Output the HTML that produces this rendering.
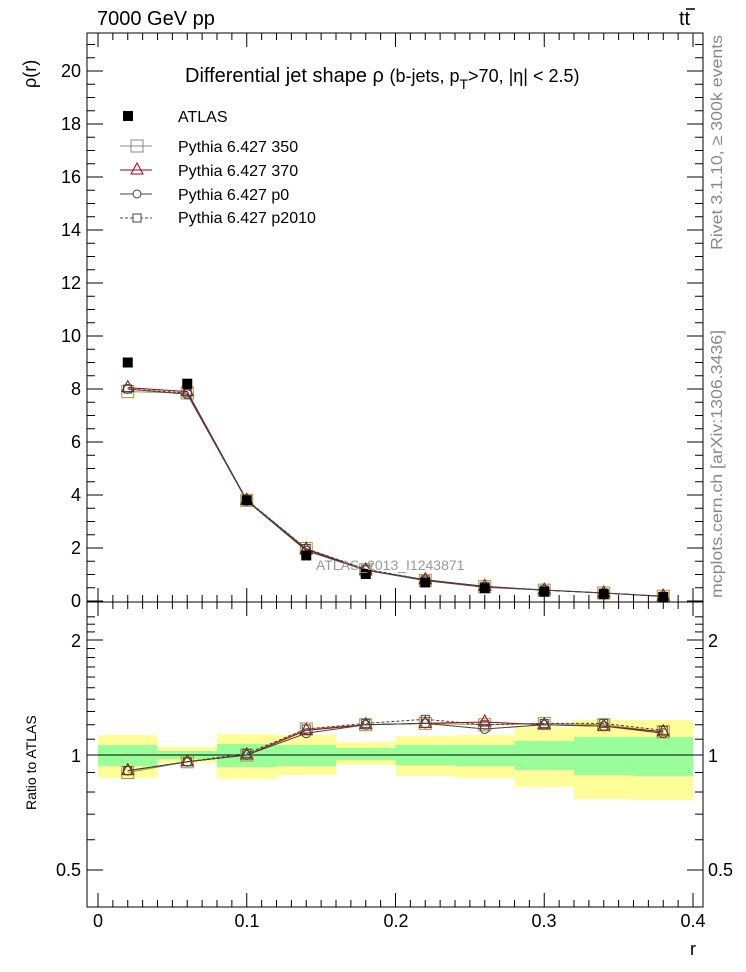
<!DOCTYPE html>
<html><head><meta charset="utf-8"><style>
body{margin:0;background:#fff}
svg{display:block;font-family:"Liberation Sans",sans-serif}
</style></head><body>
<svg id="s" width="746" height="972" viewBox="0 0 746 972" xmlns="http://www.w3.org/2000/svg">
<rect width="746" height="972" fill="#fff"/>
<g id="bands"></g>
<line x1="87" y1="755" x2="703" y2="755" stroke="#000" stroke-width="1"/>
<g id="series"></g>
<g id="ticks" stroke="#000" stroke-width="1"></g>
<rect x="87" y="33" width="616" height="569" fill="none" stroke="#000"/>
<rect x="87" y="602" width="616" height="305" fill="none" stroke="#000"/>
<text x="97" y="25" font-size="20">7000 GeV pp</text>
<text x="679" y="25" font-size="20">tt</text><line x1="686" y1="9" x2="695" y2="9" stroke="#000" stroke-width="1.5"/>
<text x="185" y="82" font-size="20">Differential jet shape  ρ <tspan font-size="18">(b-jets, p</tspan><tspan font-size="14" dy="7">T</tspan><tspan font-size="18" dy="-7">&gt;70, |η| &lt; 2.5)</tspan></text>
<text x="178" y="122" font-size="16">ATLAS</text>
<text x="178" y="152" font-size="16">Pythia 6.427 350</text>
<text x="178" y="176" font-size="16">Pythia 6.427 370</text>
<text x="178" y="200" font-size="16">Pythia 6.427 p0</text>
<text x="178" y="223" font-size="16">Pythia 6.427 p2010</text>
<rect x="123" y="111" width="10" height="10" fill="#000"/>
<line x1="120" y1="146" x2="152" y2="146" stroke="#888" /><rect x="131" y="140" width="12" height="12" fill="none" stroke="#888"/>
<line x1="120" y1="170" x2="152" y2="170" stroke="#a00018"/><polygon points="137,163 143,174 131,174" fill="none" stroke="#a00018"/>
<line x1="120" y1="194" x2="152" y2="194" stroke="#444"/><circle cx="137" cy="194" r="4" fill="#fff" stroke="#444"/>
<line x1="120" y1="218" x2="152" y2="218" stroke="#444" stroke-dasharray="3,2"/><rect x="133" y="214" width="8" height="8" fill="#fff" stroke="#444"/>
<text x="316" y="570" font-size="14" fill="#999">ATLAS_2013_I1243871</text>
<g font-size="18" text-anchor="end">
<text x="81" y="607">0</text><text x="81" y="554">2</text><text x="81" y="501">4</text><text x="81" y="448">6</text><text x="81" y="395">8</text><text x="81" y="342">10</text><text x="81" y="289">12</text><text x="81" y="236">14</text><text x="81" y="183">16</text><text x="81" y="130">18</text><text x="81" y="77">20</text>
<text x="81" y="647">2</text><text x="81" y="762">1</text><text x="81" y="876">0.5</text>
</g>
<g font-size="18"><text x="708" y="647">2</text><text x="708" y="762">1</text><text x="708" y="876">0.5</text></g>
<g font-size="18" text-anchor="middle">
<text x="98" y="927">0</text><text x="247" y="927">0.1</text><text x="396" y="927">0.2</text><text x="544" y="927">0.3</text><text x="693" y="927">0.4</text>
</g>
<text x="690" y="955" font-size="18">r</text>
<text transform="translate(36,88) rotate(-90)" font-size="18">ρ(r)</text>
<text transform="translate(36,810) rotate(-90)" font-size="14">Ratio to ATLAS</text>
<text transform="translate(722,250) rotate(-90)" font-size="16" fill="#888" textLength="215" lengthAdjust="spacingAndGlyphs">Rivet 3.1.10, ≥ 300k events</text>
<text transform="translate(722,598) rotate(-90)" font-size="16" fill="#888" textLength="268" lengthAdjust="spacingAndGlyphs">mcplots.cern.ch [arXiv:1306.3436]</text>
</svg>
<script>
const NS="http://www.w3.org/2000/svg";
function el(p,t,a){const e=document.createElementNS(NS,t);for(const k in a)e.setAttribute(k,a[k]);document.getElementById(p).appendChild(e);return e;}
const X=r=>98+1487.5*r, Y=v=>601-26.5*v, R=v=>755-165.9*Math.log(v);
const yb=[[735,778],[747,763],[734,779],[735,775],[742,765],[736,776],[735,778],[727,787],[720,799],[720,800]];
const gb=[[745,766],[751,759],[744,767],[745,766],[748,760],[745,765],[745,766],[741,770],[737,775],[737,776]];
for(let i=0;i<10;i++){const x0=X(i*0.04),x1=X((i+1)*0.04);
el("bands","rect",{x:x0,y:yb[i][0],width:x1-x0,height:yb[i][1]-yb[i][0],fill:"#ffff99"});
el("bands","rect",{x:x0,y:gb[i][0],width:x1-x0,height:gb[i][1]-gb[i][0],fill:"#99ff99"});}
const xs=[0.02,0.06,0.1,0.14,0.18,0.22,0.26,0.3,0.34,0.38];
const atl=[9.0,8.2,3.8,1.72,1.02,0.7,0.48,0.35,0.26,0.15];
const mc=[[7.9,7.85,3.8,1.98,1.18,0.78,0.54,0.41,0.3,0.18],[8.05,7.9,3.8,1.95,1.17,0.8,0.55,0.41,0.3,0.18],[8.0,7.8,3.78,1.9,1.16,0.77,0.52,0.41,0.3,0.17],[8.0,7.85,3.82,1.98,1.2,0.8,0.55,0.42,0.3,0.18]];
const rt=[[0.9,0.96,1.0,1.17,1.2,1.21,1.2,1.21,1.2,1.15],[0.91,0.96,1.0,1.16,1.2,1.21,1.22,1.2,1.19,1.15],[0.91,0.96,1.0,1.14,1.2,1.21,1.17,1.2,1.19,1.14],[0.91,0.96,1.01,1.17,1.21,1.24,1.2,1.21,1.21,1.16]];
const cols=["#999933","#a00018","#444","#444"], dash=["","","","3,2"];
for(let s=0;s<4;s++){
 for(const [arr,F] of [[mc[s],Y],[rt[s],R]]){
  el("series","polyline",{points:xs.map((x,i)=>X(x)+","+F(arr[i])).join(" "),fill:"none",stroke:cols[s],"stroke-dasharray":dash[s]});
  xs.forEach((x,i)=>{const cx=X(x),cy=F(arr[i]);
   if(s==0)el("series","rect",{x:cx-6,y:cy-6,width:12,height:12,fill:"none",stroke:cols[0]});
   if(s==1)el("series","polygon",{points:`${cx},${cy-7} ${cx+6},${cy+4} ${cx-6},${cy+4}`,fill:"none",stroke:cols[1]});
   if(s==2)el("series","circle",{cx:cx,cy:cy,r:4.5,fill:"none",stroke:cols[2]});
   if(s==3)el("series","rect",{x:cx-4,y:cy-4,width:8,height:8,fill:"none",stroke:cols[3]});
  });
 }
}
xs.forEach((x,i)=>el("series","rect",{x:X(x)-5,y:Y(atl[i])-5,width:10,height:10,fill:"#000"}));
for(let k=0;k<=40;k++){const x=X(k*0.01),L=k%10==0?14:7;
 for(const [t,b] of [[33,602],[602,907]]){el("ticks","line",{x1:x,y1:b,x2:x,y2:b-L});el("ticks","line",{x1:x,y1:t,x2:x,y2:t+L});}}
for(let k=0;k<=42;k++){const y=Y(k*0.5);if(y<33)break;const L=k%4==0?16:8;
 el("ticks","line",{x1:87,y1:y,x2:87+L,y2:y});el("ticks","line",{x1:703,y1:y,x2:703-L,y2:y});}
for(let v=0.4;v<=2.31;v+=0.1){const y=R(v);if(y<602||y>907)continue;const maj=Math.abs(v-0.5)<1e-6||Math.abs(v-1)<1e-6||Math.abs(v-2)<1e-6;const L=maj?16:8;
 el("ticks","line",{x1:87,y1:y,x2:87+L,y2:y});el("ticks","line",{x1:703,y1:y,x2:703-L,y2:y});}
</script>
</body></html>
